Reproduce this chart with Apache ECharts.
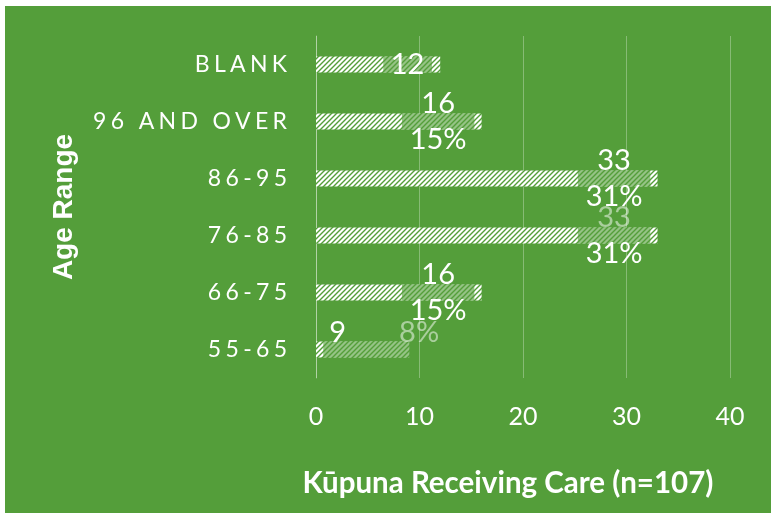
<!DOCTYPE html>
<html>
<head>
<meta charset="utf-8">
<script src="https://cdn.jsdelivr.net/npm/echarts@6/dist/echarts.min.js"></script>
<style>
  html, body { margin: 0; padding: 0; background: #fff; }
  #chart { width: 771px; height: 513px; }
</style>
</head>
<body>
<div id="chart"></div>
<script>
// top to bottom, as in the picture
const categories = ["BLANK", "96 AND OVER", "86-95", "76-85", "66-75", "55-65"];
const counts = [12, 16, 33, 33, 16, 9];
const percents = ["", "15%", "31%", "31%", "15%", "8%"];
// the faded box that sits on each bar (start, length)
const boxStart = [6.5, 8.3, 25.3, 25.3, 8.3, 0.7];
const boxLength = [4.7, 7.0, 7.0, 7.0, 7.0, 8.3];
const xTicks = [0, 10, 20, 30, 40];

const GREEN = "#549e3a";
const FONT = "Lato";

// hatch tile: white with thin green diagonals
const tile = document.createElement("canvas");
tile.width = 5;
tile.height = 5;
const tc = tile.getContext("2d");
tc.fillStyle = "#fff";
tc.fillRect(0, 0, 5, 5);
tc.strokeStyle = GREEN;
tc.lineWidth = 1.4;
tc.beginPath();
tc.moveTo(-1, 6); tc.lineTo(6, -1);
tc.moveTo(-1, 1); tc.lineTo(1, -1);
tc.moveTo(4, 6); tc.lineTo(6, 4);
tc.stroke();

// the category labels are letter-spaced in the original
const spaced = (s) => s.split("").join("\u2009\u200a");

const boxData = boxLength.map((v, i) => {
  const item = { value: v };
  if (i === 0) {
    item.label = { formatter: "{a|" + counts[i] + "}" };
  } else if (i === 3) {
    item.label = { formatter: "{f|" + counts[i] + "}\n{b|" + percents[i] + "}" };
  } else if (i === 5) {
    item.label = {
      formatter: "{a|" + counts[i] + "}{g|}{f|" + percents[i] + "}",
      offset: [18, -17]
    };
  }
  return item;
});

const chart = echarts.init(document.getElementById("chart"));
chart.setOption({
  animation: false,
  graphic: [{
    type: "rect", z: -10, silent: true,
    shape: { x: 5, y: 6, width: 766, height: 507 },
    style: { fill: GREEN }
  }],
  grid: { left: 316, right: 41, top: 36, bottom: 135, containLabel: false },
  xAxis: {
    type: "value",
    min: xTicks[0],
    max: xTicks[xTicks.length - 1],
    interval: 10,
    name: "K\u016bpuna Receiving Care (n=107)",
    nameLocation: "middle",
    nameGap: 90,
    nameTextStyle: {
      color: "#fff", fontFamily: FONT, fontWeight: "bold", fontSize: 29.5,
      padding: [0, 30, 0, 0]
    },
    axisLine: { show: false },
    axisTick: { show: false },
    axisLabel: { color: "#fff", fontFamily: FONT, fontSize: 25, margin: 26 },
    splitLine: { lineStyle: { color: "rgba(255,255,255,0.3)", width: 1 } }
  },
  yAxis: {
    type: "category",
    data: categories,
    inverse: true,
    name: "Age Range",
    nameLocation: "middle",
    nameRotate: 90,
    nameGap: 238,
    nameTextStyle: { color: "#fff", fontFamily: "Liberation Sans", fontWeight: "bold", fontSize: 28 },
    axisLine: { lineStyle: { color: "rgba(255,255,255,0.35)", width: 1 } },
    axisTick: { show: false },
    axisLabel: {
      color: "#fff", fontFamily: FONT, fontSize: 23, margin: 29,
      formatter: (v) => spaced(v)
    }
  },
  series: [
    {
      name: "Count",
      type: "bar",
      data: counts,
      barWidth: 16,
      itemStyle: { color: { image: tile, repeat: "repeat" } },
      z: 2
    },
    {
      name: "offset",
      type: "bar",
      stack: "box",
      data: boxStart,
      barWidth: 16,
      barGap: "-100%",
      itemStyle: { color: "transparent" },
      silent: true,
      z: 3
    },
    {
      name: "Box",
      type: "bar",
      stack: "box",
      data: boxData,
      barWidth: 16,
      itemStyle: { color: "rgba(84,158,58,0.62)" },
      z: 3,
      label: {
        show: true,
        position: "inside",
        formatter: (p) => "{a|" + counts[p.dataIndex] + "}\n{b|" + percents[p.dataIndex] + "}",
        rich: {
          a: { color: "#fff", fontFamily: FONT, fontSize: 29, lineHeight: 36 },
          b: { color: "#fff", fontFamily: FONT, fontSize: 29, lineHeight: 36 },
          f: { color: "rgba(255,255,255,0.5)", fontFamily: FONT, fontSize: 29, lineHeight: 36 },
          g: { width: 53 }
        }
      }
    }
  ]
});
</script>
</body>
</html>
